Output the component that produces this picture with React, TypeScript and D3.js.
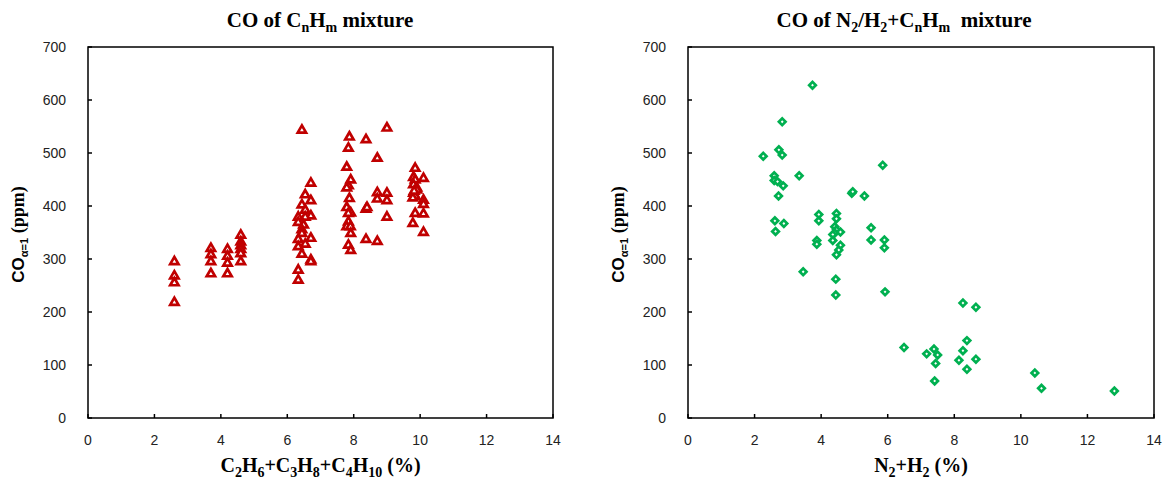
import React from 'react';
import * as d3 from 'd3';

// left panel: C2H6+C3H8+C4H10 (%) vs CO (ppm)
const hcPct = [
  2.6, 2.6, 2.6, 2.6,
  3.7, 3.7, 3.7, 3.7,
  4.2, 4.2, 4.2, 4.2,
  4.6, 4.6, 4.6, 4.6, 4.6, 4.6,
  6.44, 6.71, 6.54, 6.71, 6.44, 6.54, 6.71, 6.33, 6.54, 6.33, 6.49, 6.44, 6.44, 6.71, 6.33, 6.54, 6.33, 6.44, 6.71, 6.71, 6.33, 6.33,
  7.87, 7.84, 7.79, 7.91, 7.84, 7.79, 7.87, 7.79, 7.91, 7.84, 7.84, 7.79, 7.9, 7.91, 7.84, 7.91,
  8.37, 8.37, 8.4, 8.37,
  8.71, 8.71, 8.71, 8.71,
  9.0, 9.0, 9.0, 9.0,
  9.85, 9.8, 10.1, 9.85, 9.8, 9.9, 9.8, 9.85, 9.78, 9.9, 9.82, 10.1, 10.1, 9.85, 10.1, 9.78, 10.1,
];
const hcCO = [
  295, 268, 255, 218,
  320, 308, 295, 272,
  318, 305, 292, 272,
  345, 332, 325, 318, 310, 295,
  543, 443, 421, 410, 402, 392, 381, 379, 379, 369, 364, 355, 348, 339, 337, 328, 323, 309, 298, 295, 279, 260,
  530, 509, 473, 449, 438, 434, 414, 397, 387, 386, 370, 361, 361, 348, 326, 316,
  525, 394, 397, 337,
  490, 425, 413, 333,
  547, 424, 410, 379,
  471, 454, 452, 449, 440, 434, 424, 418, 415, 430, 428, 411, 403, 386, 385, 367, 350,
];

// right panel: N2+H2 (%) vs CO (ppm)
const inertPct = [
  3.74, 2.83, 2.26, 2.73, 2.83, 3.34, 5.85, 2.59, 2.59, 2.69, 2.86, 2.72, 4.92, 4.95, 5.3,
  2.61, 2.88, 2.63, 3.93, 3.93, 4.46, 4.46, 4.41, 4.46, 4.41, 4.58, 4.35, 5.5, 3.87, 3.87,
  4.35, 4.58, 5.5, 5.9, 5.9, 4.53, 4.46, 3.46, 4.44, 4.44, 5.92,
  8.26, 8.65, 6.49, 8.38, 7.39, 7.17, 7.5, 8.26, 7.44, 8.14, 8.65, 8.38, 7.41, 10.42, 10.62, 12.81,
];
const inertCO = [
  628, 559, 494, 506, 496, 457, 477, 457, 448, 446, 438, 419, 424, 427, 419,
  372, 367, 352, 384, 372, 386, 376, 361, 355, 349, 351, 346, 359, 335, 328,
  335, 326, 336, 336, 321, 317, 308, 276, 262, 232, 238,
  217, 209, 133, 146, 130, 121, 119, 127, 103, 109, 111, 92, 70, 85, 56, 51,
];

const xTicks = [0, 2, 4, 6, 8, 10, 12, 14];
const yTicks = [0, 100, 200, 300, 400, 500, 600, 700];

const W = 1169;
const H = 479;
const top = 47;
const bottom = 418;
const serif = '"Liberation Serif", "Times New Roman", serif';
const sans = '"Liberation Sans", Arial, sans-serif';

const triangle = d3.symbol().type(d3.symbolTriangle).size(30)() as string;
const diamond = d3.symbol().type(d3.symbolSquare).size(22)() as string;

type PanelProps = {
  left: number;
  right: number;
  xs: number[];
  ys: number[];
  color: string;
  marker: string;
  rotate: number;
  title: React.ReactNode;
  titleX: number;
  xLabel: React.ReactNode;
};

function Panel({ left, right, xs, ys, color, marker, rotate, title, titleX, xLabel }: PanelProps) {
  const x = d3.scaleLinear().domain([0, 14]).range([left, right]);
  const y = d3.scaleLinear().domain([0, 700]).range([bottom, top]);
  const mid = (left + right) / 2;
  return (
    <g>
      {/* ticks inside the frame */}
      {xTicks.map(t => (
        <g key={'x' + t}>
          <line x1={x(t)} x2={x(t)} y1={bottom} y2={bottom - 4} stroke="#000" strokeWidth={1.5} />
          <text x={x(t)} y={bottom + 27} textAnchor="middle" fontFamily={sans} fontSize={14} fill="#222">{t}</text>
        </g>
      ))}
      {yTicks.map(t => (
        <g key={'y' + t}>
          <line x1={left} x2={left + 4} y1={y(t)} y2={y(t)} stroke="#000" strokeWidth={1.5} />
          <text x={left - 22} y={y(t) + 5} textAnchor="end" fontFamily={sans} fontSize={14} fill="#222">{t}</text>
        </g>
      ))}
      <rect x={left} y={top} width={right - left} height={bottom - top} fill="none" stroke="#000" strokeWidth={1.5} />

      {xs.map((v, i) => (
        <path
          key={i}
          d={marker}
          transform={`translate(${x(v)},${y(ys[i])}) rotate(${rotate})`}
          fill="#fff"
          stroke={color}
          strokeWidth={2.7}
        />
      ))}

      <text x={titleX} y={27} textAnchor="middle" fontFamily={serif} fontWeight="bold" fontSize={21} fill="#000" style={{ whiteSpace: 'pre' }}>{title}</text>
      <text x={mid} y={472} textAnchor="middle" fontFamily={serif} fontWeight="bold" fontSize={20} fill="#000">{xLabel}</text>
      <text transform={`translate(${left - 64},${(top + bottom) / 2 + 2}) rotate(-90)`} textAnchor="middle" fontWeight="bold" fill="#000">
        <tspan fontFamily={sans} fontSize={17}>CO</tspan>
        <tspan fontFamily={sans} fontSize={11} dy={4}>α=1</tspan>
        <tspan fontFamily={serif} fontSize={18} dy={-4}> (ppm)</tspan>
      </text>
    </g>
  );
}

const sub = (s: string) => <tspan fontSize={14} dy={5}>{s}</tspan>;
const base = (s: string) => <tspan dy={-5}>{s}</tspan>;

export default function App() {
  return (
    <svg width={W} height={H} style={{ position: 'absolute', left: 0, top: 0, background: '#fff' }}>
      <Panel
        left={88}
        right={553}
        xs={hcPct}
        ys={hcCO}
        color="#C00000"
        marker={triangle}
        rotate={0}
        titleX={320}
        title={<>CO of C{sub('n')}{base('H')}{sub('m')}{base(' mixture')}</>}
        xLabel={<>C{sub('2')}{base('H')}{sub('6')}{base('+C')}{sub('3')}{base('H')}{sub('8')}{base('+C')}{sub('4')}{base('H')}{sub('10')}{base(' (%)')}</>}
      />
      <Panel
        left={688}
        right={1154}
        xs={inertPct}
        ys={inertCO}
        color="#00B050"
        marker={diamond}
        rotate={45}
        titleX={904}
        title={<>CO of N{sub('2')}{base('/H')}{sub('2')}{base('+C')}{sub('n')}{base('H')}{sub('m')}{base('\u00a0 mixture')}</>}
        xLabel={<>N{sub('2')}{base('+H')}{sub('2')}{base(' (%)')}</>}
      />
    </svg>
  );
}
